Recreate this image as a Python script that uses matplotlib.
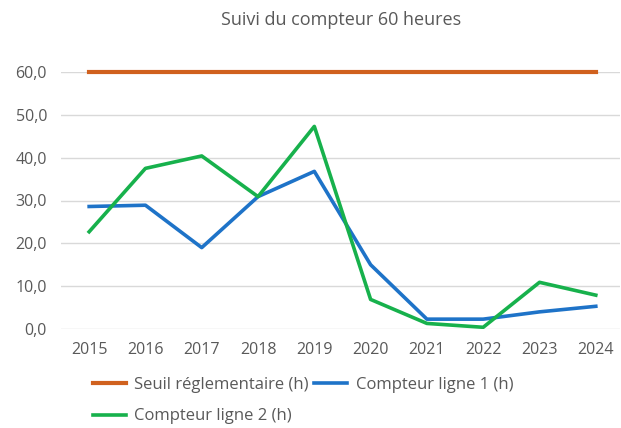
import matplotlib
matplotlib.use("Agg")
import matplotlib.pyplot as plt
from matplotlib.ticker import FuncFormatter

years = ["2015", "2016", "2017", "2018", "2019", "2020", "2021", "2022", "2023", "2024"]
seuil = [60, 60, 60, 60, 60, 60, 60, 60, 60, 60]
ligne1 = [28.6, 28.9, 19.0, 30.9, 36.8, 15.0, 2.3, 2.3, 4.0, 5.3]
ligne2 = [22.7, 37.5, 40.4, 30.9, 47.3, 6.9, 1.3, 0.4, 10.9, 7.9]

TEXT = "#595959"
plt.rcParams["font.family"] = ["Open Sans", "DejaVu Sans"]

fig = plt.figure(figsize=(6.21, 4.28), dpi=100)
ax = fig.add_axes([61 / 621, 99 / 428, 559 / 621, 257 / 428])

x = range(len(years))
l0, = ax.plot(x, seuil, color="#D0611E", lw=3.0, label="Seuil réglementaire (h)", clip_on=False, zorder=3)
l1, = ax.plot(x, ligne1, color="#1E73C8", lw=2.6, label="Compteur ligne 1 (h)", zorder=3)
l2, = ax.plot(x, ligne2, color="#17B14C", lw=2.6, label="Compteur ligne 2 (h)", zorder=3)

ax.set_xlim(-0.5, 9.43)
ax.set_ylim(0, 60)
ax.set_yticks(range(0, 61, 10))
ax.yaxis.set_major_formatter(FuncFormatter(lambda v, p: f"{v:.1f}".replace(".", ",")))
ax.set_xticks(list(x))
ax.set_xticklabels(years)
ax.grid(axis="y", color="#D9D9D9", lw=1.0)
ax.set_axisbelow(True)
for s in ax.spines.values():
    s.set_visible(False)
ax.tick_params(length=0, labelsize=11.5, labelcolor=TEXT)
ax.tick_params(axis="x", pad=9)
ax.tick_params(axis="y", pad=10)

fig.suptitle("Suivi du compteur 60 heures", x=341 / 621, y=1 - 20 / 428, va="center",
             fontsize=13, color=TEXT)

# column-major order so the rows read: orange, blue / green
fig.legend([l0, l2, l1], [l0.get_label(), l2.get_label(), l1.get_label()],
           loc="upper left", bbox_to_anchor=(86 / 621, 1 - 370 / 428), ncol=2, frameon=False,
           fontsize=12, labelcolor=TEXT, handlelength=2.0, handletextpad=0.5,
           columnspacing=0.3, labelspacing=0.95, borderaxespad=0)

fig.savefig("out.png", dpi=100)
